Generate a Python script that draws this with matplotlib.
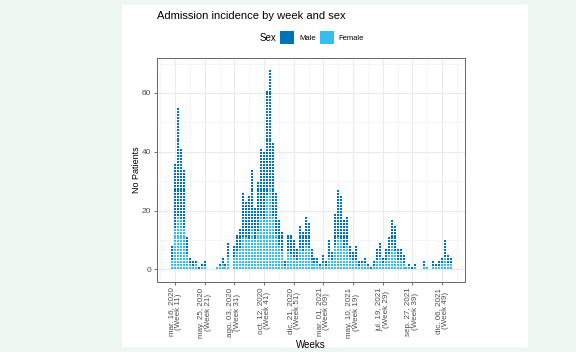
import matplotlib
matplotlib.use("Agg")
import matplotlib.pyplot as plt
import matplotlib.dates as mdates
from matplotlib.patches import Rectangle
import pandas as pd

plt.rcParams['font.family'] = ['Liberation Sans', 'DejaVu Sans']

# weekly admissions, first week starts 2020-03-09
first_week = '2020-03-09'

male = [5, 22, 37, 24, 20, 6, 2, 2, 1, 1,
        1, 2, 0, 0, 0, 0, 1, 2, 1, 5,
        0, 4, 6, 7, 15, 12, 15, 20, 11, 17,
        23, 23, 36, 40, 25, 14, 9, 7, 2, 6,
        7, 6, 4, 8, 7, 10, 9, 4, 2, 2,
        1, 3, 2, 6, 3, 11, 16, 15, 10, 10,
        4, 3, 5, 2, 1, 2, 1, 1, 2, 4,
        5, 2, 4, 6, 9, 9, 4, 4, 3, 0,
        1, 1, 1, 0, 0, 2, 0, 0, 2, 1,
        2, 2, 6, 3, 2]

female = [3, 14, 18, 17, 14, 5, 2, 1, 2, 0,
          1, 1, 0, 0, 0, 1, 1, 2, 1, 4,
          0, 4, 6, 7, 11, 11, 10, 14, 10, 13,
          18, 17, 25, 28, 18, 12, 8, 6, 1, 6,
          5, 4, 3, 7, 6, 8, 7, 3, 2, 2,
          1, 2, 1, 4, 3, 8, 11, 10, 7, 8,
          4, 3, 3, 1, 2, 2, 1, 0, 1, 3,
          4, 2, 3, 5, 8, 6, 3, 3, 2, 1,
          1, 0, 1, 0, 0, 1, 1, 0, 1, 1,
          1, 2, 4, 2, 2]

tick_dates = ['2020-03-16', '2020-05-25', '2020-08-03', '2020-10-12', '2020-12-21',
              '2021-03-01', '2021-05-10', '2021-07-19', '2021-09-27', '2021-12-06']
tick_labels = ['mar. 16, 2020\n(Week 11)', 'may. 25, 2020\n(Week 21)',
               'ago. 03, 2020\n(Week 31)', 'oct. 12, 2020\n(Week 41)',
               'dic. 21, 2020\n(Week 51)', 'mar. 01, 2021\n(Week 09)',
               'may. 10, 2021\n(Week 19)', 'jul. 19, 2021\n(Week 29)',
               'sep. 27, 2021\n(Week 39)', 'dic. 06, 2021\n(Week 49)']
y_ticks = [0, 20, 40, 60]

MALE_COLOR = '#0272B8'
FEMALE_COLOR = '#35BDEE'
W, H = 576, 352

fig = plt.figure(figsize=(W / 100, H / 100), dpi=100, facecolor='#eef6f1')
fig.patches.append(Rectangle((122 / W, 1 - 347 / H), (528 - 122) / W, (347 - 5) / H,
                             transform=fig.transFigure, facecolor='white',
                             edgecolor='none', zorder=-5))

ax = fig.add_axes([157 / W, 1 - 282 / H, (465 - 157) / W, (282 - 58) / H])
ax.set_zorder(2)

weeks = mdates.date2num(pd.date_range(first_week, periods=len(male), freq='7D'))

# stack one dot per patient, female at the bottom
xf, yf, xm, ym = [], [], [], []
for x, f, m in zip(weeks, female, male):
    for i in range(f):
        xf.append(x)
        yf.append(i + 0.5)
    for i in range(m):
        xm.append(x)
        ym.append(f + i + 0.5)

ax.scatter(xf, yf, marker='s', s=3.7, c=FEMALE_COLOR, linewidths=0, zorder=3)
ax.scatter(xm, ym, marker='s', s=3.7, c=MALE_COLOR, linewidths=0, zorder=3)

tick_nums = mdates.date2num(pd.to_datetime(tick_dates))
ref = tick_nums[0]
ax.set_xlim(ref - 42.5, ref + 684)
ax.set_ylim(-4.3, 71.9)

ax.set_xticks(tick_nums)
ax.set_xticklabels(tick_labels, rotation=90, fontsize=5.8, linespacing=1.0,
                   multialignment='center', color='#4d4d4d')
ax.set_xticks([t + 35 for t in tick_nums] + [tick_nums[0] - 35], minor=True)
ax.set_yticks(y_ticks)
ax.set_yticklabels([str(v) for v in y_ticks], fontsize=6, color='#4d4d4d')
ax.set_yticks([10, 30, 50, 70], minor=True)
ax.tick_params(which='major', length=2.5, width=0.5, color='#333333', pad=1.5)
ax.tick_params(which='minor', length=0)

ax.grid(which='major', color='#ebebeb', linewidth=0.8, zorder=0)
ax.grid(which='minor', color='#f2f2f2', linewidth=0.5, zorder=0)
ax.set_axisbelow(True)
for sp in ax.spines.values():
    sp.set_color('#666666')
    sp.set_linewidth(0.7)

ax.set_ylabel('No Patients', fontsize=6.5, labelpad=0.5)
ax.set_xlabel('Weeks', fontsize=7, labelpad=2)

fig.text(157 / W, 1 - 16 / H, 'Admission incidence by week and sex', fontsize=8,
         ha='left', va='center')

# legend
fig.text(268 / W, 1 - 38 / H, 'Sex', fontsize=7, ha='center', va='center')
fig.patches.append(Rectangle((280 / W, 1 - 44 / H), 14 / W, 13 / H,
                             transform=fig.transFigure, facecolor=MALE_COLOR,
                             edgecolor='none'))
fig.text(299 / W, 1 - 38 / H, 'Male', fontsize=5.5, ha='left', va='center')
fig.patches.append(Rectangle((320 / W, 1 - 44 / H), 14 / W, 13 / H,
                             transform=fig.transFigure, facecolor=FEMALE_COLOR,
                             edgecolor='none'))
fig.text(338 / W, 1 - 38 / H, 'Female', fontsize=5.5, ha='left', va='center')

fig.savefig('out.png', dpi=100, facecolor=fig.get_facecolor())
